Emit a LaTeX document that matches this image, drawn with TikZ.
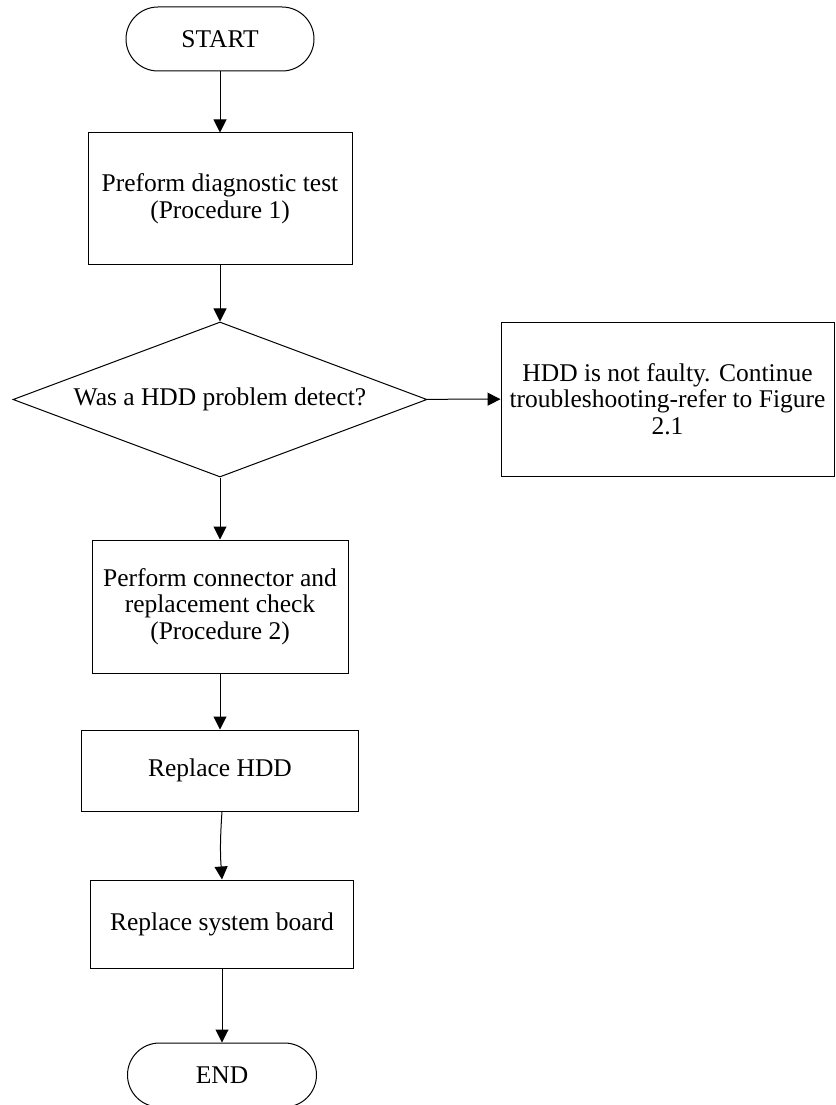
\documentclass[tikz,border=0pt]{standalone}
\usepackage{fontspec}
\setmainfont{Liberation Serif}
\usetikzlibrary{arrows.meta,shapes.geometric}
\begin{document}
\begin{tikzpicture}[x=1pt,y=-1pt,
  every node/.style={font=\fontsize{25.5}{26.5}\selectfont, align=center, inner sep=0pt},
  term/.style={draw, line width=1pt, rounded corners=32pt, minimum width=188pt, minimum height=64pt},
  proc/.style={draw, line width=1pt, rectangle},
  decision/.style={draw, line width=1pt, diamond, aspect=2.67, minimum width=414pt, minimum height=155pt},
  flow/.style={line width=1pt, -{Triangle[width=13pt,length=13pt]}}]
  \useasboundingbox (0,0) rectangle (835,1105);

  % flowchart steps
  \node[term] (start) at (220,39) {START};
  \node[proc, minimum width=264pt, minimum height=131pt] (diag) at (220,198.5)
       {Preform diagnostic test\\(Procedure 1)};
  \node[decision] (dec) at (220,399.5) {Was a HDD problem detect?};
  \node[proc, minimum width=333pt, minimum height=154pt] (nofault) at (667.5,399)
       {HDD is not faulty. Continue\\troubleshooting-refer to Figure\\2.1};
  \node[proc, minimum width=256pt, minimum height=133pt] (conn) at (220,606.5)
       {Perform connector and\\replacement check\\(Procedure 2)};
  \node[proc, minimum width=277pt, minimum height=81pt] (hdd) at (220,770.5) {Replace HDD};
  \node[proc, minimum width=263pt, minimum height=88pt] (board) at (222,924) {Replace system board};
  \node[term, minimum width=189pt] (end) at (222,1075) {END};

  % connectors
  \draw[flow] (start) -- (diag);
  \draw[flow] (diag) -- (dec);
  \draw[flow] (dec) -- (nofault);
  \draw[flow] (dec) -- (conn);
  \draw[flow] (conn) -- (hdd);
  \draw[flow] ([xshift=2pt]hdd.south) to[bend right=4] (board.north);
  \draw[flow] (board) -- (end);
\end{tikzpicture}
\end{document}
